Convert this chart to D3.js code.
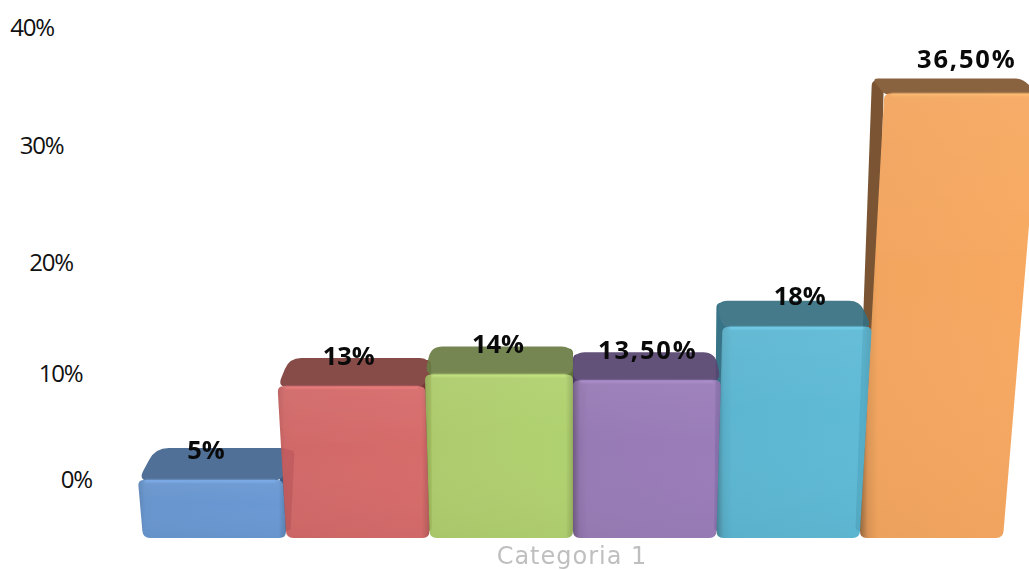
<!DOCTYPE html>
<html>
<head>
<meta charset="utf-8">
<script src="https://d3js.org/d3.v7.min.js"></script>
<style>
html,body{margin:0;padding:0;background:#fff;overflow:hidden}
svg{display:block}
.tick-label{font-family:"Open Sans",sans-serif;font-size:24px;letter-spacing:-1.2px;fill:#111}
.value-label{font-family:"Open Sans",sans-serif;font-weight:bold;font-size:25.5px;fill:#0a0a0a;text-anchor:middle}
.cat-label{font-family:"DejaVu Sans",sans-serif;font-size:24px;letter-spacing:1px;fill:#bfbfbf;text-anchor:middle}
</style>
</head>
<body>
<svg id="chart" width="1029" height="570"></svg>
<script>
// Chart data
const category = "Categoria 1";
const seriesValues = [5, 13, 14, 13.5, 18, 36.5];
const valueLabels = ["5%", "13%", "14%", "13,50%", "18%", "36,50%"];
const tickValues = [0, 10, 20, 30, 40];

// Face colours per series
const frontColors = ["#6a99d3", "#d66b6a", "#b1d16f", "#9b7db9", "#5fbad6", "#f8a961"];
const topColors = ["#4f7198", "#874b49", "#758651", "#61517a", "#457a8c", "#8a6140"];
const sideColors = ["#3a5a85", "#773a39", "#60753a", "#4f3b69", "#3a7488", "#7a5634"];

const W = 1029, H = 570;
const svg = d3.select("#chart");
const defs = svg.append("defs");

// Perspective model: the camera looks down on the columns from above the centre
const vanishX = 574, lift = 0.00236, backShrink = 0.96, baseShrink = 0.985, labelSpread = 1.012;
const faceOpacity = 0.93;

const xBase = d3.scaleBand().domain(d3.range(seriesValues.length)).range([143, 1003]);
const yFront = d3.scaleLinear().domain(tickValues).range([538, 422, 303, 176, 49]);
const depth = d3.scaleLinear().domain([5, 18, 36.5]).range([32, 26, 15]);
const yLabel = d3.scaleLinear().domain([5, 13, 18, 36.5]).range([459, 365, 305, 68]);
const yTick = d3.scaleLinear().domain(tickValues).range([479, 373, 262, 145, 27]);
const xTick = d3.scaleLinear().domain([0, 40]).range([92, 54]);

const persp = (x, v) => vanishX + (x - vanishX) * (1 + lift * v);
const recede = (x, s) => vanishX + (x - vanishX) * s;

// Colour that reads as `hex` once painted at faceOpacity over white
function opaqueFor(hex) {
  const c = d3.rgb(hex), f = u => Math.max(0, (u - 255 * (1 - faceOpacity)) / faceOpacity);
  return d3.rgb(f(c.r), f(c.g), f(c.b));
}

// Closed polygon whose corners are rounded by per-vertex radii
function roundedPoly(pts, radii) {
  const n = pts.length;
  const p = d3.path();
  pts.forEach((c, i) => {
    const a = pts[(i + n - 1) % n], b = pts[(i + 1) % n], r = radii[i];
    const la = Math.hypot(a[0] - c[0], a[1] - c[1]), lb = Math.hypot(b[0] - c[0], b[1] - c[1]);
    const ra = Math.min(r, la / 2), rb = Math.min(r, lb / 2);
    const s = [c[0] + (a[0] - c[0]) * ra / la, c[1] + (a[1] - c[1]) * ra / la];
    const e = [c[0] + (b[0] - c[0]) * rb / lb, c[1] + (b[1] - c[1]) * rb / lb];
    if (i === 0) p.moveTo(s[0], s[1]); else p.lineTo(s[0], s[1]);
    p.quadraticCurveTo(c[0], c[1], e[0], e[1]);
  });
  p.closePath();
  return p.toString();
}

// Soft edge shared by all column faces
defs.append("filter").attr("id", "soft").attr("x", "-5%").attr("y", "-5%").attr("width", "110%").attr("height", "110%")
  .append("feGaussianBlur").attr("stdDeviation", 0.55);
defs.append("filter").attr("id", "glow").attr("filterUnits", "userSpaceOnUse").attr("x", 0).attr("y", 0).attr("width", W).attr("height", H)
  .append("feGaussianBlur").attr("stdDeviation", 0.8);

// Horizontal face shading, darker towards the upright edges
seriesValues.forEach((v, i) => {
  const c = opaqueFor(frontColors[i]);
  const g = defs.append("linearGradient").attr("id", "front" + i).attr("x1", 0).attr("x2", 1).attr("y1", 0).attr("y2", 0);
  const leftDark = i === 5 ? 1.5 : i >= 3 ? 1.1 : 0.4, rightDark = i <= 2 ? 0.55 : 0.2;
  [[0, c.darker(leftDark)], [0.045, c.darker(leftDark * 0.22)], [0.1, c.darker(0.06)], [0.95, c], [1, c.darker(rightDark)]]
    .forEach(([o, col]) => g.append("stop").attr("offset", o).attr("stop-color", col));
});

// Faint vertical sheen on the front faces
const sheen = defs.append("linearGradient").attr("id", "sheen").attr("x1", 0).attr("x2", 0).attr("y1", 0).attr("y2", 1);
sheen.append("stop").attr("offset", 0).attr("stop-color", "#fff").attr("stop-opacity", 0.05);
sheen.append("stop").attr("offset", 0.4).attr("stop-color", "#fff").attr("stop-opacity", 0);
sheen.append("stop").attr("offset", 1).attr("stop-color", "#000").attr("stop-opacity", 0.03);

// Outer columns are painted first so the inner ones sit over them
const paintOrder = [0, 5, 1, 4, 2, 3];
const bars = svg.append("g").attr("filter", "url(#soft)");

paintOrder.forEach(i => {
  const v = seriesValues[i];
  const xl = xBase(i), xr = xl + xBase.bandwidth();
  const yT = yFront(v), yB = yFront(0), d = depth(v), yBack = yT - d;
  const fl = persp(xl, v), fr = persp(xr, v);
  const bl = recede(fl, backShrink), br = recede(fr, backShrink);
  const g = bars.append("g").attr("opacity", faceOpacity);

  // Inner side face, seen only on the side facing the centre; it tucks under the
  // top and front faces so no gap opens along their shared edges
  const onLeft = (xl + xr) / 2 < vanishX;
  const inward = onLeft ? -12 : 12;
  const sideFront = onLeft ? fr : fl, sideBack = onLeft ? br : bl, sideFoot = onLeft ? xr : xl;
  g.append("path")
    .attr("d", roundedPoly([
      [sideBack, yBack + 2],
      [sideBack + inward, yBack + 2],
      [sideFoot + inward, yB - 4],
      [recede(sideFoot, baseShrink), yB - 8]
    ], [5, 0, 0, 2]))
    .attr("fill", opaqueFor(sideColors[i]));

  // Top face
  const rBack = d * 0.42, rFront = d * 0.36;
  g.append("path")
    .attr("d", roundedPoly([[bl, yBack], [br, yBack], [fr, yT + 1], [fl, yT + 1]], [rBack, rBack, rFront, rFront]))
    .attr("fill", opaqueFor(topColors[i]));

  // Front face
  const facePath = roundedPoly([[fl, yT], [fr, yT], [xr, yB], [xl, yB]], [6, 6, 7, 7]);
  g.append("path").attr("d", facePath).attr("fill", `url(#front${i})`);
  g.append("path").attr("d", facePath).attr("fill", "url(#sheen)");

  // Bright rim along the front top edge
  g.append("line")
    .attr("x1", fl + 7).attr("x2", fr - 7).attr("y1", yT + 1).attr("y2", yT + 1)
    .attr("stroke", d3.color(frontColors[i]).brighter(0.35)).attr("stroke-width", 1.8)
    .attr("filter", "url(#glow)");
});

// Value axis, its labels stepping outward with the perspective
const axis = d3.axisLeft(yTick).tickValues(tickValues).tickSize(0).tickFormat(t => t + "%");
const axisG = svg.append("g").call(axis);
axisG.attr("font-family", null).attr("font-size", null);
axisG.select(".domain").remove();
axisG.selectAll(".tick text")
  .attr("class", "tick-label")
  .attr("x", t => xTick(t))
  .attr("dy", "0.36em")
  .attr("text-anchor", "end");

// Value labels; the longer decimal ones are set with wider tracking
svg.append("g").selectAll("text").data(seriesValues).join("text")
  .attr("class", "value-label")
  .attr("x", (v, i) => recede(persp(xBase(i) + xBase.bandwidth() / 2, v), labelSpread))
  .attr("y", v => yLabel(v))
  .attr("letter-spacing", (v, i) => valueLabels[i].includes(",") ? 1.8 : null)
  .text((v, i) => valueLabels[i]);

// Category label
svg.append("text").attr("class", "cat-label").attr("x", 572).attr("y", 564).text(category);
</script>
</body>
</html>
